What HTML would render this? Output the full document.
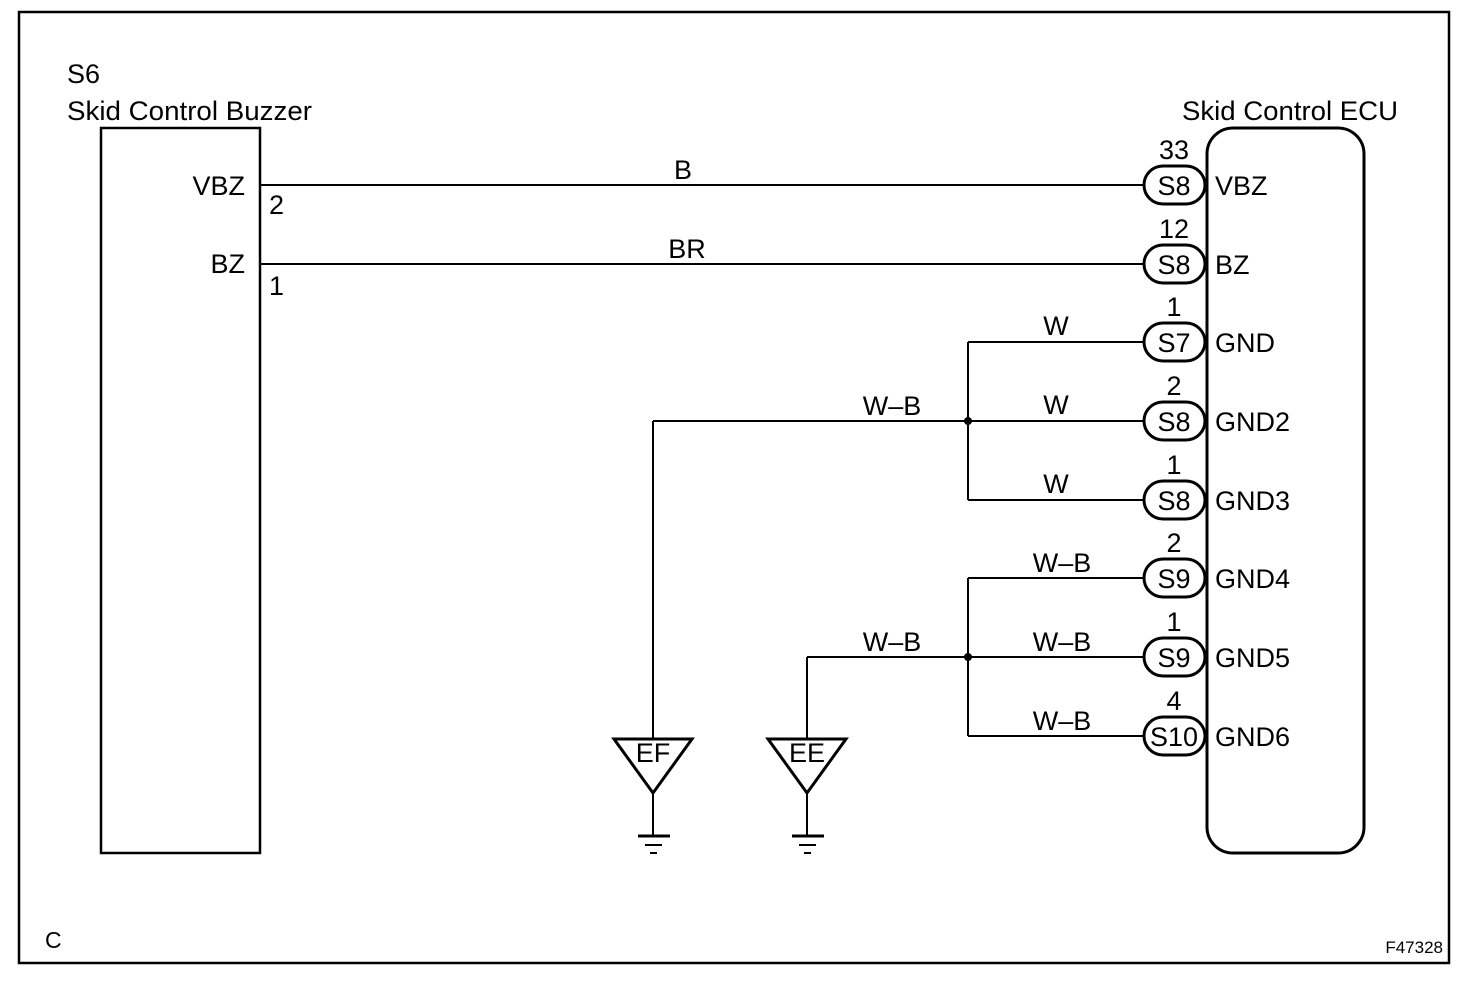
<!DOCTYPE html>
<html><head><style>html,body{margin:0;padding:0;background:#fff}svg{display:block}text{font-family:"Liberation Sans",Arial,sans-serif;fill:#000}</style></head><body>
<svg width="1472" height="990" viewBox="0 0 1472 990" xmlns="http://www.w3.org/2000/svg">
<rect x="19" y="12" width="1430" height="951" fill="none" stroke="#000" stroke-width="2.5"/>
<rect x="101" y="128" width="159" height="725" fill="none" stroke="#000" stroke-width="2.5"/>
<rect x="1207" y="128" width="157" height="725" rx="26" fill="none" stroke="#000" stroke-width="3"/>
<g font-size="27">
<text x="67" y="83">S6</text>
<text x="67" y="120" textLength="245" lengthAdjust="spacingAndGlyphs">Skid Control Buzzer</text>
<text x="1182" y="120" textLength="216" lengthAdjust="spacingAndGlyphs">Skid Control ECU</text>
<text x="245" y="195" text-anchor="end">VBZ</text>
<text x="269" y="214">2</text>
<text x="245" y="273" text-anchor="end">BZ</text>
<text x="269" y="295">1</text>
</g>
<g stroke="#000" stroke-width="2" fill="none">
<line x1="260" y1="185" x2="1143" y2="185"/>
<line x1="260" y1="264" x2="1143" y2="264"/>
<line x1="968" y1="342" x2="1143" y2="342"/>
<line x1="653" y1="421" x2="1143" y2="421"/>
<line x1="968" y1="500" x2="1143" y2="500"/>
<line x1="968" y1="342" x2="968" y2="500"/>
<line x1="653" y1="421" x2="653" y2="740"/>
<line x1="968" y1="578" x2="1143" y2="578"/>
<line x1="807" y1="657" x2="1143" y2="657"/>
<line x1="968" y1="736" x2="1143" y2="736"/>
<line x1="968" y1="578" x2="968" y2="736"/>
<line x1="807" y1="657" x2="807" y2="740"/>
<line x1="653" y1="793" x2="653" y2="836"/>
<line x1="807" y1="793" x2="807" y2="836"/>
</g>
<circle cx="968" cy="421" r="4"/><circle cx="968" cy="657" r="4"/>
<g stroke="#000" fill="none" stroke-width="3">
<polygon points="614,739 692,739 653,793"/>
<polygon points="768,739 846,739 807,793"/>
<line x1="638" y1="836" x2="670" y2="836"/><line x1="645" y1="845" x2="662" y2="845" stroke-width="2"/><line x1="650" y1="853" x2="657" y2="853" stroke-width="2"/>
<line x1="792" y1="836" x2="824" y2="836"/><line x1="799" y1="845" x2="816" y2="845" stroke-width="2"/><line x1="804" y1="853" x2="811" y2="853" stroke-width="2"/>
</g>
<g font-size="27" text-anchor="middle">
<text x="653" y="762">EF</text><text x="807" y="762">EE</text>
<text x="683" y="179">B</text><text x="687" y="258">BR</text>
<text x="1056" y="335">W</text><text x="1056" y="414">W</text><text x="1056" y="493">W</text>
<text x="1062" y="572">W–B</text><text x="1062" y="651">W–B</text><text x="1062" y="730">W–B</text>
<text x="892" y="415">W–B</text><text x="892" y="651">W–B</text>
</g>
<g font-size="27">
<g text-anchor="middle">
<text x="1174" y="159">33</text><text x="1174" y="238">12</text><text x="1174" y="316">1</text><text x="1174" y="395">2</text>
<text x="1174" y="474">1</text><text x="1174" y="552">2</text><text x="1174" y="631">1</text><text x="1174" y="710">4</text>
</g>
<g fill="#fff" stroke="#000" stroke-width="3">
<rect x="1144" y="166" width="61" height="38" rx="19"/>
<rect x="1144" y="245" width="61" height="38" rx="19"/>
<rect x="1144" y="323" width="61" height="38" rx="19"/>
<rect x="1144" y="402" width="61" height="38" rx="19"/>
<rect x="1144" y="481" width="61" height="38" rx="19"/>
<rect x="1144" y="559" width="61" height="38" rx="19"/>
<rect x="1144" y="638" width="61" height="38" rx="19"/>
<rect x="1144" y="717" width="61" height="38" rx="19"/>
</g>
<g text-anchor="middle">
<text x="1174" y="195">S8</text><text x="1174" y="274">S8</text><text x="1174" y="352">S7</text><text x="1174" y="431">S8</text>
<text x="1174" y="510">S8</text><text x="1174" y="588">S9</text><text x="1174" y="667">S9</text><text x="1174" y="746" textLength="48" lengthAdjust="spacingAndGlyphs">S10</text>
</g>
<text x="1215" y="195">VBZ</text><text x="1215" y="274">BZ</text><text x="1215" y="352">GND</text><text x="1215" y="431">GND2</text>
<text x="1215" y="510">GND3</text><text x="1215" y="588">GND4</text><text x="1215" y="667">GND5</text><text x="1215" y="746">GND6</text>
</g>
<text x="45" y="948" font-size="23">C</text>
<text x="1443" y="953" font-size="17" text-anchor="end">F47328</text>
</svg>
</body></html>
